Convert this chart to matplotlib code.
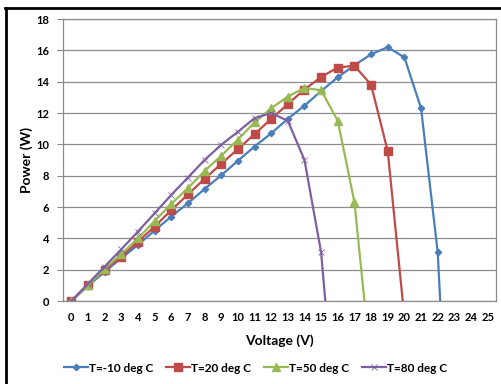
import numpy as np
import matplotlib
matplotlib.use("Agg")
import matplotlib.pyplot as plt
from matplotlib.lines import Line2D

plt.rcParams['font.family'] = ['Lato', 'DejaVu Sans']

# voltage categories 0..25
volts = list(range(26))

# power readings (W) at each integer voltage, last entry = where curve hits 0
v_m10 = list(range(23)) + [22.15]
p_m10 = [0, 0.96, 1.87, 2.73, 3.58, 4.5, 5.39, 6.24, 7.15, 8.02, 8.95, 9.86, 10.7,
         11.63, 12.47, 13.4, 14.28, 15.05, 15.75, 16.2, 15.55, 12.3, 3.1, 0]

v_20 = list(range(20)) + [19.9]
p_20 = [0, 1.05, 1.98, 2.83, 3.79, 4.75, 5.8, 6.8, 7.8, 8.75, 9.7, 10.65, 11.62,
        12.57, 13.5, 14.3, 14.9, 15.02, 13.8, 9.55, 0]

v_50 = list(range(18)) + [17.6]
p_50 = [0, 1.0, 2.05, 3.0, 4.0, 5.1, 6.2, 7.2, 8.3, 9.27, 10.3, 11.4, 12.3,
        13.05, 13.6, 13.45, 11.5, 6.3, 0]

v_80 = list(range(16)) + [15.25]
p_80 = [0, 1.1, 2.2, 3.3, 4.43, 5.6, 6.77, 7.88, 9.0, 9.97, 10.8, 11.67, 12.0,
        11.5, 9.0, 3.1, 0]

labels = ['T=-10 deg C', 'T=20 deg C', 'T=50 deg C', 'T=80 deg C']
colors = ['#4A7EBB', '#BE4B48', '#98B954', '#7D60A0']
markers = ['D', 's', '^', 'x']
msizes = [3.2, 5.5, 5.5, 4.5]
mews = [1.0, 1.0, 1.0, 0.6]

fig = plt.figure(figsize=(5.01, 3.84), dpi=100)
ax = fig.add_axes([63/501, 1-301/384, (496-63)/501, (301-19)/384])

series = [(v_m10, p_m10), (v_20, p_20), (v_50, p_50), (v_80, p_80)]
for (vx, py), lab, c, m, ms, mw in zip(series, labels, colors, markers, msizes, mews):
    ax.plot(vx, py, color=c, lw=1.6, marker=m, ms=ms, mew=mw,
            markevery=list(range(len(vx) - 1)), label=lab)

ax.set_xlim(-0.5, 25.5)
ax.set_ylim(0, 18)
ax.set_xticks(volts)
ax.set_yticks(np.arange(0, 19, 2))
ax.tick_params(axis='x', length=0, pad=8, labelsize=8)
ax.tick_params(axis='y', length=4, color='#888888', pad=6, labelsize=8)
for t in ax.get_xticklabels() + ax.get_yticklabels():
    t.set_fontweight('bold')
ax.grid(axis='y', color='#8c8c8c', lw=0.9)
ax.set_axisbelow(True)
for s in ax.spines.values():
    s.set_color('#8c8c8c')
    s.set_linewidth(0.9)

ax.set_xlabel('Voltage (V)', fontsize=10, fontweight='bold', labelpad=8)
ax.set_ylabel('Power (W)', fontsize=10, fontweight='bold', labelpad=2)

leg = fig.legend(loc='center', bbox_to_anchor=(0.51, 1-368/384), ncol=4,
                 frameon=False, handlelength=2.0, columnspacing=1.1,
                 handletextpad=0.1, prop={'size': 8.5, 'weight': 'bold'})

# outer frame (top and left black edges)
fig.add_artist(Line2D([5/501, 1], [1-7.5/384, 1-7.5/384], color='black', lw=2,
                      transform=fig.transFigure))
fig.add_artist(Line2D([6/501, 6/501], [0, 1-7.5/384], color='black', lw=2,
                      transform=fig.transFigure))

fig.savefig('out.png', dpi=100)
